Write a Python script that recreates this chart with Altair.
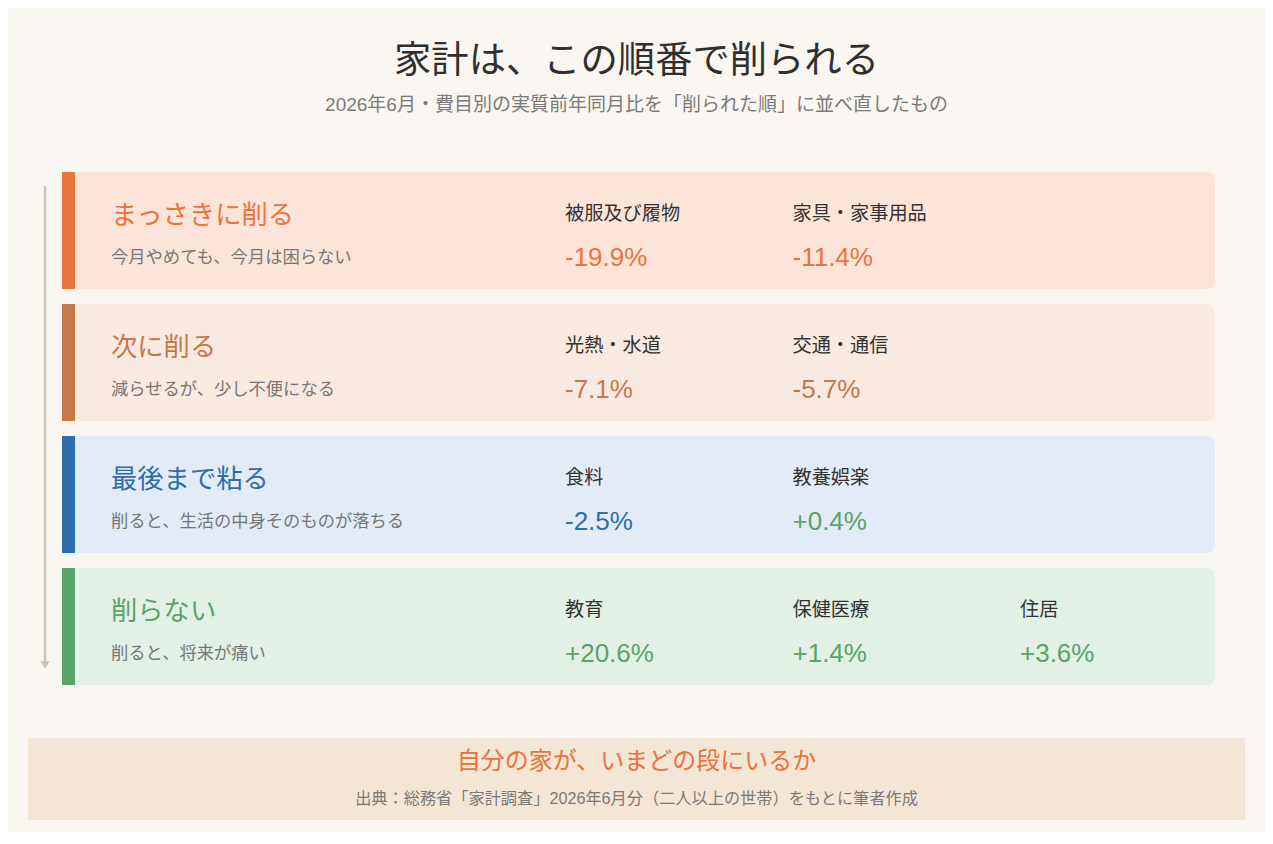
import altair as alt
import pandas as pd

# ---- data ----
main_title = ["家計は、この順番で削られる"]
sub_title = ["2026年6月・費目別の実質前年同月比を「削られた順」に並べ直したもの"]
footer_title = ["自分の家が、いまどの段にいるか"]
footer_source = ["出典：総務省「家計調査」2026年6月分（二人以上の世帯）をもとに筆者作成"]

tiers = ["まっさきに削る", "次に削る", "最後まで粘る", "削らない"]
tier_desc = ["今月やめても、今月は困らない", "減らせるが、少し不便になる",
             "削ると、生活の中身そのものが落ちる", "削ると、将来が痛い"]
tier_color = ["#e9743c", "#c7784b", "#2f6dab", "#58a46a"]
tier_fill = ["#fde4d9", "#f8eae0", "#e3ecf6", "#e2f0e5"]

item_tier = [0, 0, 1, 1, 2, 2, 3, 3, 3]
item_col = [0, 1, 0, 1, 0, 1, 0, 1, 2]
item_name = ["被服及び履物", "家具・家事用品", "光熱・水道", "交通・通信",
             "食料", "教養娯楽", "教育", "保健医療", "住居"]
item_value = [-19.9, -11.4, -7.1, -5.7, -2.5, 0.4, 20.6, 1.4, 3.6]
positive_color = "#58a46a"

# ---- tables ----
tier_df = pd.DataFrame({"tier": tiers, "desc": tier_desc,
                        "color": tier_color, "fill": tier_fill})
item_df = pd.DataFrame({
    "tier": [tiers[i] for i in item_tier],
    "col": item_col,
    "name": item_name,
    "value": item_value,
})
item_df["label"] = [f"{v:+.1f}%" for v in item_value]
item_df["vcolor"] = [positive_color if v > 0 else tier_color[t]
                     for v, t in zip(item_value, item_tier)]

FONT = "'Liberation Sans', 'Noto Sans CJK JP', sans-serif"
BG = "#faf6f1"

yscale = alt.Scale(domain=tiers, range=[164, 677], paddingInner=15 / 132, paddingOuter=0)
Y = alt.Y("tier:N", scale=yscale, axis=None)
XC = alt.X("col:O", scale=alt.Scale(type="point", domain=[0, 1, 2], range=[557, 1012], padding=0), axis=None)


def text_layer(values, x, y, size, color, align="center"):
    return alt.Chart(pd.DataFrame({"t": values})).mark_text(
        font=FONT, fontSize=size, color=color, align=align, baseline="middle"
    ).encode(text="t:N", x=alt.value(x), y=alt.value(y))


title = text_layer(main_title, 628.5, 54, 37.3, "#2f2f2f")
subtitle = text_layer(sub_title, 628.5, 97, 19, "#7a7a7a")

bands = alt.Chart(tier_df).mark_rect(cornerRadius=8).encode(
    y=Y, x=alt.value(54), x2=alt.value(1207),
    color=alt.Color("fill:N", scale=None))
accents = alt.Chart(tier_df).mark_rect().encode(
    y=Y, x=alt.value(54), x2=alt.value(67),
    color=alt.Color("color:N", scale=None))
tier_names = alt.Chart(tier_df).mark_text(
    font=FONT, fontSize=26.3, align="left", baseline="middle", dy=-14.5
).encode(y=Y, x=alt.value(103), text="tier:N", color=alt.Color("color:N", scale=None))
tier_descs = alt.Chart(tier_df).mark_text(
    font=FONT, fontSize=17.3, align="left", baseline="middle", dy=27, color="#777777"
).encode(y=Y, x=alt.value(103), text="desc:N")

item_names = alt.Chart(item_df).mark_text(
    font=FONT, fontSize=19.2, align="left", baseline="middle", dy=-17, color="#333333"
).encode(y=Y, x=XC, text="name:N")
item_values = alt.Chart(item_df).mark_text(
    font=FONT, fontSize=26, align="left", baseline="middle", dy=27
).encode(y=Y, x=XC, text="label:N", color=alt.Color("vcolor:N", scale=None))

arrow_line = alt.Chart(pd.DataFrame({"a": [0]})).mark_rule(
    color="#cdc3b9", strokeWidth=2.5
).encode(x=alt.value(37), y=alt.value(178), y2=alt.value(655))
arrow_head = alt.Chart(pd.DataFrame({"a": [0]})).mark_point(
    shape="triangle-down", filled=True, color="#cdc3b9", size=80, opacity=1
).encode(x=alt.value(37), y=alt.value(657))

footer_box = alt.Chart(pd.DataFrame({"a": [0]})).mark_rect(color="#f3e6d4").encode(
    x=alt.value(20), x2=alt.value(1237), y=alt.value(730), y2=alt.value(812))
footer1 = text_layer(footer_title, 628.5, 754, 24, "#e9743c")
footer2 = text_layer(footer_source, 628.5, 791, 16.2, "#7a7a7a")

chart = alt.layer(
    title, subtitle, arrow_line, arrow_head,
    bands, accents, tier_names, tier_descs, item_names, item_values,
    footer_box, footer1, footer2,
).resolve_scale(color="independent").properties(
    width=1257, height=824, padding=0,
    autosize=alt.AutoSizeParams(type="none"),
    background=BG,
).configure_view(stroke=None)

chart.save("out.html", embed_options={"renderer": "svg", "actions": False})
